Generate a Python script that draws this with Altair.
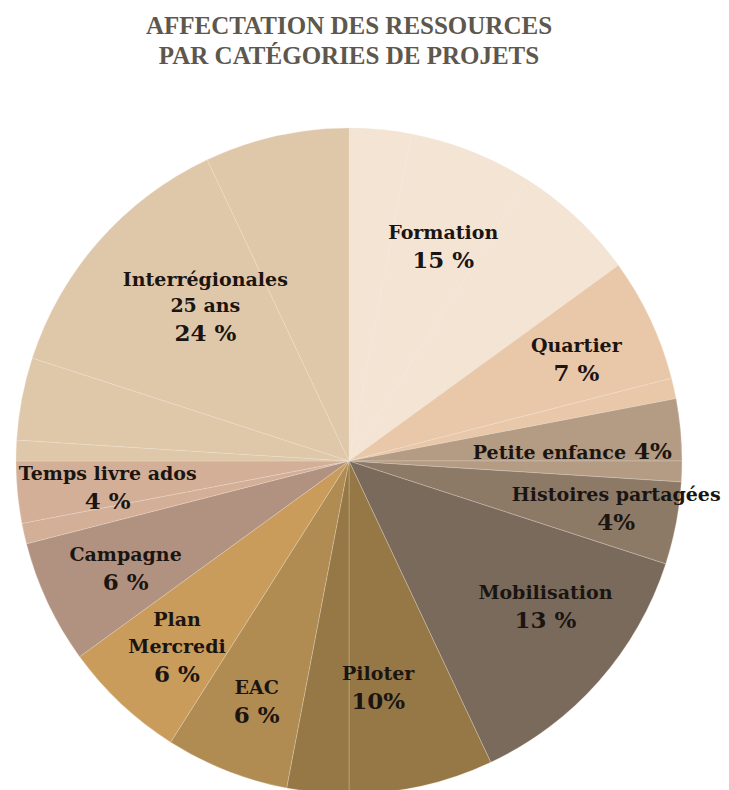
import math
import altair as alt
import pandas as pd

# ---------------- data ----------------
title_lines = ["AFFECTATION DES RESSOURCES", "PAR CATÉGORIES DE PROJETS"]

categories = [
    "Formation", "Quartier", "Petite enfance", "Histoires partagées",
    "Mobilisation", "Piloter", "EAC", "Plan Mercredi", "Campagne",
    "Temps livre ados", "Interrégionales 25 ans",
]
name_labels = [
    "Formation", "Quartier", "Petite enfance", "Histoires partagées",
    "Mobilisation", "Piloter", "EAC", "Plan\nMercredi", "Campagne",
    "Temps livre ados", "Interrégionales\n25 ans",
]
pct_labels = ["15 %", "7 %", "4%", "4%", "13 %", "10%", "6 %", "6 %", "6 %", "4 %", "24 %"]

# sub-project shares inside each category (faint divisions in the pie)
sub_values = [
    [3, 6, 6],
    [6, 1],
    [3, 1],
    [4],
    [13],
    [7, 3],
    [6],
    [6],
    [6],
    [1, 3],
    [1, 4, 13, 7],
]

# ---------------- styles / layout ----------------
colors = [
    "#F3E4D4", "#E9C8A9", "#B49B84", "#8C7A67", "#7A6A5B", "#967846",
    "#B08B52", "#C99C5C", "#B19180", "#D3AF98", "#DFC8A9",
]
label_r = [215, 241, 281, 276, 258, 250, 278, 280, 258, 246, 187]
label_nudge_deg = [-1.0, 4.0, 3.2, 3.7, -1.0, 0.5, -2.2, -5.3, -4.8, -4.1, -5.2]
inline = [False, False, True, False, False, False, False, False, False, False, False]

# ---------------- tables ----------------
rows = []
k = 0
for i, (cat, subs) in enumerate(zip(categories, sub_values)):
    for v in subs:
        rows.append({"cat": cat, "v": v, "k": k})
        k += 1
arcs_df = pd.DataFrame(rows)

total = sum(sum(s) for s in sub_values)
lab_rows = []
cum = 0
for i, cat in enumerate(categories):
    val = sum(sub_values[i])
    mid = cum + val / 2
    cum += val
    theta = mid / total * 2 * math.pi + math.radians(label_nudge_deg[i])
    lab_rows.append({
        "cat": cat, "name": name_labels[i], "pct": pct_labels[i],
        "lt": theta, "lr": label_r[i], "inline": inline[i],
        "nl": name_labels[i].count("\n") + 1,
    })
lab_df = pd.DataFrame(lab_rows)

color_scale = alt.Scale(domain=categories, range=colors)

arcs = alt.Chart(arcs_df).mark_arc(
    outerRadius=333, stroke="#F4EADF", strokeWidth=0.6, strokeOpacity=0.45
).encode(
    theta=alt.Theta("v:Q", stack=True),
    color=alt.Color("cat:N", scale=color_scale, legend=None),
    order=alt.Order("k:Q"),
)

txt_base = alt.Chart(lab_df).encode(
    theta=alt.Theta("lt:Q", scale=None),
    radius=alt.Radius("lr:Q", scale=None),
)
font = "DejaVu Serif"
tcol = "#1B1511"
nsize = 19
psize = 23
lh = 26.5

names1 = txt_base.transform_filter("!datum.inline && datum.nl == 1").mark_text(
    font=font, fontWeight="bold", fontSize=nsize, baseline="bottom",
    align="center", dy=-25, color=tcol,
).encode(text="name:N")

names2 = txt_base.transform_filter("!datum.inline && datum.nl == 2").mark_text(
    font=font, fontWeight="bold", fontSize=nsize, baseline="bottom",
    lineHeight=lh, lineBreak="\n", align="center", dy=-25 - lh, color=tcol,
).encode(text="name:N")

pcts = txt_base.transform_filter("!datum.inline").mark_text(
    font=font, fontWeight="bold", fontSize=psize, baseline="alphabetic",
    align="center", color=tcol,
).encode(text="pct:N")

inl_names = txt_base.transform_filter("datum.inline").mark_text(
    font=font, fontWeight="bold", fontSize=nsize, baseline="alphabetic",
    align="right", dx=-4, color=tcol,
).encode(text="name:N")

inl_pcts = txt_base.transform_filter("datum.inline").mark_text(
    font=font, fontWeight="bold", fontSize=psize, baseline="alphabetic",
    align="left", dx=4, color=tcol,
).encode(text="pct:N")

chart = alt.layer(arcs, names1, names2, pcts, inl_names, inl_pcts).resolve_scale(
    theta="independent", radius="independent"
).properties(
    width=682,
    height=740,
    padding={"left": 0, "top": 83, "right": 31, "bottom": 0},
    autosize=alt.AutoSizeParams(type="none"),
    title=alt.TitleParams(
        text=title_lines, font="Liberation Serif", fontWeight="bold",
        fontSize=25, lineHeight=30, color="#5E574D", anchor="middle",
        offset=22,
    ),
).configure_view(stroke=None)

chart.save("out.html", embed_options={"renderer": "svg", "actions": False})
